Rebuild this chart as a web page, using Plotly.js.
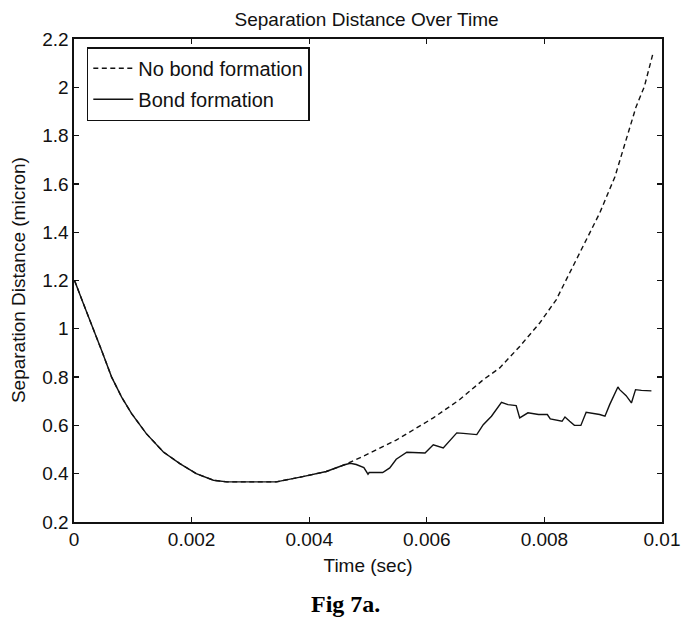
<!DOCTYPE html>
<html>
<head>
<meta charset="utf-8">
<script src="https://cdn.plot.ly/plotly-3.0.1.min.js"></script>
<style>
html,body{margin:0;padding:0;background:#fff;}
#chart{width:689px;height:621px;}
</style>
</head>
<body>
<div id="chart"></div>
<script>
// Shared early part (both curves coincide)
const sharedTime = [0, 0.00002, 0.00016, 0.00033, 0.00047, 0.00064, 0.00081, 0.00098, 0.00123, 0.00152, 0.0018, 0.00208, 0.00237, 0.0026, 0.00344, 0.00389, 0.00429, 0.0046];
const sharedDist = [1.2, 1.193, 1.104, 0.993, 0.91, 0.80, 0.717, 0.649, 0.566, 0.49, 0.442, 0.40, 0.373, 0.366, 0.366, 0.388, 0.409, 0.437];

// No bond formation (dashed) after divergence
const noBondTime = [0.0049, 0.00548, 0.00611, 0.00656, 0.00696, 0.00724, 0.00758, 0.00792, 0.0082, 0.0086, 0.00894, 0.0092, 0.0094, 0.00956, 0.0097, 0.00984];
const noBondDist = [0.47, 0.539, 0.631, 0.707, 0.789, 0.838, 0.927, 1.024, 1.12, 1.314, 1.479, 1.63, 1.79, 1.92, 2.003, 2.134];

// Bond formation (solid) after divergence
const bondTime = [0.0047, 0.0048, 0.00493, 0.0050, 0.00502, 0.00525, 0.00537, 0.00548, 0.00566, 0.00597, 0.00611, 0.00628, 0.00645, 0.00651, 0.00662, 0.00685, 0.00696, 0.0071, 0.00727, 0.00738, 0.00752, 0.00758, 0.00772, 0.0079, 0.00805, 0.0081, 0.0083, 0.00835, 0.00843, 0.00851, 0.00862, 0.00871, 0.00894, 0.00903, 0.00911, 0.00919, 0.00925, 0.00928, 0.00939, 0.00948, 0.00951, 0.00955, 0.00965, 0.00982];
const bondDist = [0.443, 0.438, 0.425, 0.398, 0.405, 0.405, 0.424, 0.46, 0.489, 0.486, 0.52, 0.507, 0.555, 0.569, 0.567, 0.562, 0.603, 0.638, 0.696, 0.686, 0.682, 0.631, 0.652, 0.645, 0.645, 0.627, 0.617, 0.635, 0.617, 0.60, 0.60, 0.654, 0.645, 0.638, 0.686, 0.727, 0.759, 0.748, 0.723, 0.693, 0.714, 0.748, 0.745, 0.743];

const xTickVals = [0, 0.002, 0.004, 0.006, 0.008, 0.01];
const xTickText = ["0", "0.002", "0.004", "0.006", "0.008", "0.01"];
const yTickVals = [0.2, 0.4, 0.6, 0.8, 1, 1.2, 1.4, 1.6, 1.8, 2, 2.2];
const yTickText = ["0.2", "0.4", "0.6", "0.8", "1", "1.2", "1.4", "1.6", "1.8", "2", "2.2"];

const seriesNames = ["No bond formation", "Bond formation"];

const font = "Liberation Sans, Arial, sans-serif";
const ink = "#111";

const traces = [
  {
    x: sharedTime.concat(noBondTime),
    y: sharedDist.concat(noBondDist),
    name: seriesNames[0], legendgroup: "a",
    mode: "lines",
    line: {color: ink, width: 1.4, dash: "5px,3.5px"}
  },
  {
    x: sharedTime.concat(bondTime),
    y: sharedDist.concat(bondDist),
    name: seriesNames[1], legendgroup: "b",
    mode: "lines",
    line: {color: ink, width: 1.4}
  }
];

const axisCommon = {
  showline: true, linecolor: ink, linewidth: 1.6, mirror: "ticks",
  ticks: "inside", ticklen: 5, tickwidth: 1.3, tickcolor: ink,
  showgrid: false, zeroline: false, fixedrange: true,
  tickfont: {family: font, size: 19, color: ink}
};

const layout = {
  width: 689, height: 621,
  margin: {l: 74, r: 27, t: 39, b: 99, pad: 0},
  paper_bgcolor: "#fff", plot_bgcolor: "#fff",
  font: {family: font, color: ink},
  title: {text: "Separation Distance Over Time", font: {family: font, size: 19, color: ink},
          x: 0.532, xanchor: "center", xref: "container", y: 1 - 19/621, yanchor: "middle", yref: "container"},
  xaxis: Object.assign({}, axisCommon, {
    range: [0, 0.01], tickvals: xTickVals, ticktext: xTickText,
    title: {text: "Time (sec)", font: {family: font, size: 19, color: ink}, standoff: 9}
  }),
  yaxis: Object.assign({}, axisCommon, {
    range: [0.2, 2.2], tickvals: yTickVals, ticktext: yTickText
  }),
  showlegend: true,
  legend: {
    x: 0.0216, y: 0.983, xanchor: "left", yanchor: "top",
    bgcolor: "#fff", bordercolor: ink, borderwidth: 1.6,
    font: {family: font, size: 20, color: ink},
    traceorder: "grouped", tracegroupgap: 2,
    itemwidth: 40
  },
  annotations: [
    {
      text: "Separation Distance (micron)", xref: "paper", yref: "paper",
      x: (18.5 - 74) / 589, y: 0.5, xanchor: "center", yanchor: "middle", textangle: -90,
      showarrow: false, font: {family: font, size: 19, color: ink}
    },
    {
      text: "<b>Fig 7a.</b>", xref: "paper", yref: "paper",
      x: (346 - 74) / 589, y: (522.5 - 605) / 483.5, xanchor: "center", yanchor: "middle",
      showarrow: false, font: {family: "Liberation Serif, Times New Roman, serif", size: 24, color: "#000"}
    }
  ]
};

Plotly.newPlot("chart", traces, layout, {displayModeBar: false, staticPlot: true});
</script>
</body>
</html>
